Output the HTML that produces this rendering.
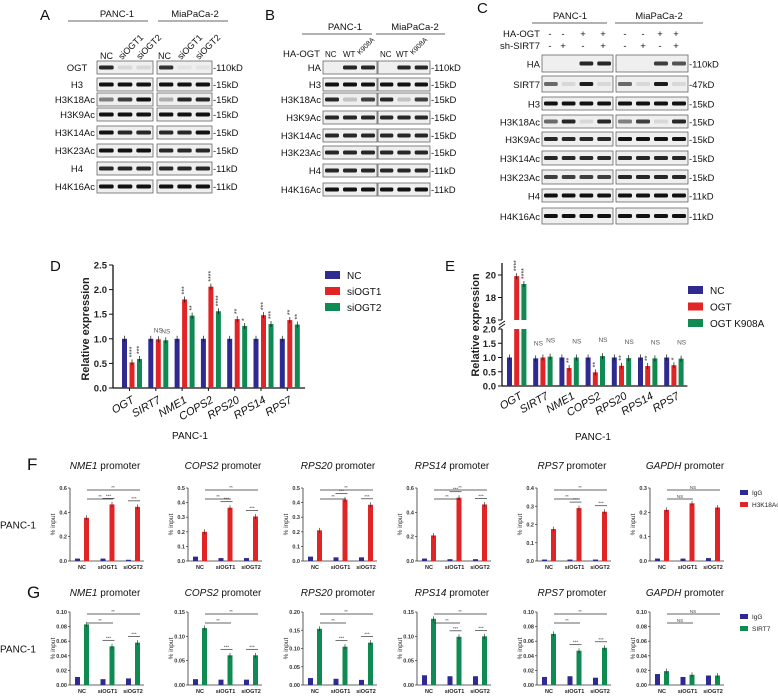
<!DOCTYPE html>
<html><head><meta charset="utf-8">
<style>
html,body{margin:0;padding:0;background:#fff;}
svg{display:block;font-family:"Liberation Sans",Arial,sans-serif;}
</style></head>
<body>
<svg id="fig" width="778" height="696" viewBox="0 0 778 696" xmlns="http://www.w3.org/2000/svg">
<rect x="0" y="0" width="778" height="696" fill="#fff"/>
<g id="blots"></g>
<g id="chartD"></g>
<g id="chartE"></g>
<g id="chartF"></g>
<g id="chartG"></g>
</svg>
<script>
// ---------- Panel D data ----------
const dGenes = ["OGT","SIRT7","NME1","COPS2","RPS20","RPS14","RPS7"];
const dNC = [1,1,1,1,1,1,1];
const dSi1 = [0.52,0.99,1.8,2.06,1.4,1.48,1.38];
const dSi2 = [0.59,0.97,1.47,1.56,1.26,1.3,1.29];
const dSig1 = ["****","NS","***","****","**","***","**"];
const dSig2 = ["***","NS","**","****","*","***","**"];
const dTicks = ["0.0","0.5","1.0","1.5","2.0","2.5"];
const dSeries = ["NC","siOGT1","siOGT2"];
// ---------- Panel E data ----------
const eGenes = ["OGT","SIRT7","NME1","COPS2","RPS20","RPS14","RPS7"];
const eNC = [1,0.97,1,1,1,1,1];
const eOGT = [19.9,1,0.63,0.48,0.71,0.7,0.73];
const eK908A = [19.2,1.03,1,1.05,0.98,0.97,0.96];
const eSig1 = ["****","NS","**","**","**","**","*"];
const eSig2 = ["****","NS","NS","NS","NS","NS","NS"];
const eTicksLow = ["0.0","0.5","1.0","1.5","2.0"];
const eTicksHigh = ["16","18","20"];
const eSeries = ["NC","OGT","OGT K908A"];
// ---------- Panel F/G data ----------
const chipGroups = ["NC","siOGT1","siOGT2"];
const chipPromoters = ["NME1","COPS2","RPS20","RPS14","RPS7","GAPDH"];
const fMax = [0.6,0.5,0.5,0.6,0.4,0.3];
const fStep = [0.2,0.1,0.1,0.2,0.1,0.1];
const fIgG = [[0.02,0.02,0.01],[0.03,0.02,0.02],[0.03,0.025,0.025],[0.02,0.015,0.015],[0.008,0.008,0.008],[0.01,0.01,0.012]];
const fH3K18 = [[0.355,0.465,0.445],[0.2,0.365,0.305],[0.21,0.42,0.385],[0.21,0.52,0.465],[0.175,0.29,0.27],[0.21,0.237,0.22]];
const gMax = [0.10,0.15,0.20,0.15,0.10,0.10];
const gStep = [0.02,0.05,0.05,0.05,0.02,0.02];
const gIgG = [[0.011,0.008,0.009],[0.012,0.011,0.011],[0.019,0.017,0.014],[0.02,0.018,0.018],[0.011,0.012,0.01],[0.015,0.011,0.013]];
const gSIRT7 = [[0.083,0.053,0.058],[0.117,0.061,0.061],[0.154,0.105,0.116],[0.136,0.099,0.1],[0.07,0.047,0.051],[0.019,0.014,0.013]];

const NS="http://www.w3.org/2000/svg";
const BLUE="#2e2a90",RED="#e12526",GREEN="#0f8a52";
function el(parent,tag,attrs,text){const e=document.createElementNS(NS,tag);for(const k in attrs)e.setAttribute(k,attrs[k]);if(text!==undefined)e.textContent=text;parent.appendChild(e);return e;}

// ================= Blots =================
const B=document.getElementById('blots');
function txt(x,y,s,size,anchor,extra){const t=el(B,'text',Object.assign({x:x,y:y,'font-size':size||10,'text-anchor':anchor||'start',fill:'#111'},extra||{}),s);return t;}
function box(x,y,w,h,ints){
  const g=el(B,'g',{});
  
  
  el(g,'rect',{x:x,y:y,width:w,height:h,fill:'#efefef',stroke:'#666','stroke-width':0.8});
  const n=ints.length,lw=w/n;
  ints.forEach((v,i)=>{if(v<=0)return;el(g,'rect',{x:x+lw*i+2,y:y+h/2-2,width:lw-4,height:4,rx:1.5,fill:'#111',opacity:v});});
}
// Panel A
txt(40,20,"A",15);
txt(117,17,"PANC-1",9.5,'middle');txt(195,17,"MiaPaCa-2",9.5,'middle');
el(B,'line',{x1:68,y1:21,x2:148,y2:21,stroke:'#666'});el(B,'line',{x1:158,y1:21,x2:228,y2:21,stroke:'#666'});
txt(100,59,"NC",9);txt(158,59,"NC",9);
[["siOGT1",122],["siOGT2",140],["siOGT1",181],["siOGT2",199]].forEach(a=>txt(a[1],60,a[0],9,'start',{transform:`rotate(-45 ${a[1]} 60)`}));
const aRows=[["OGT",61,[0.9,0.1,0.1],[0.85,0.05,0.05],"-110kD"],["H3",78,[1,1,1],[1,1,1],"-15kD"],["H3K18Ac",93,[0.5,0.8,1],[0.3,0.9,0.9],"-15kD"],["H3K9Ac",108,[1,1,1],[1,1,1],"-15kD"],["H3K14Ac",126,[1,0.9,0.9],[0.9,0.9,1],"-15kD"],["H3K23Ac",144,[1,1,1],[0.9,0.9,0.9],"-15kD"],["H4",162,[0.9,0.9,0.9],[0.9,0.9,0.9],"-11kD"],["H4K16Ac",180,[1,1,1],[1,1,1],"-11kD"]];
aRows.forEach(r=>{const c=(r[0]==="OGT"||r[0]==="H3"||r[0]==="H4");txt(c?77:95,r[1]+10,r[0],9.5,c?'middle':'end');box(97,r[1],56,13,r[2]);box(157,r[1],55,13,r[3]);txt(213,r[1]+10,r[4],9.5);});
// Panel B
txt(265,20,"B",15);
txt(345,30,"PANC-1",9.5,'middle');txt(415,30,"MiaPaCa-2",9.5,'middle');
el(B,'line',{x1:302,y1:34,x2:372,y2:34,stroke:'#666'});el(B,'line',{x1:376,y1:34,x2:445,y2:34,stroke:'#666'});
txt(320,57,"HA-OGT",9.5,'end');txt(325,57,"NC",8);txt(343,57,"WT",8);txt(360,55,"K908A",7,'start',{transform:'rotate(-45 360 55)'});
txt(380,57,"NC",8);txt(396,57,"WT",8);txt(413,55,"K908A",7,'start',{transform:'rotate(-45 413 55)'});
const bRows=[["HA",61,[0,0.9,0.9],[0,0.9,0.9],"-110kD"],["H3",78,[1,1,1],[1,1,1],"-15kD"],["H3K18Ac",93,[0.9,0.2,0.8],[0.9,0.2,0.8],"-15kD"],["H3K9Ac",111,[0.9,0.9,0.9],[0.9,0.9,0.9],"-15kD"],["H3K14Ac",129,[0.9,0.9,0.9],[0.9,0.9,0.9],"-15kD"],["H3K23Ac",146,[0.9,0.9,0.9],[0.9,0.9,0.9],"-15kD"],["H4",164,[0.9,0.9,0.9],[0.9,0.9,0.9],"-11kD"],["H4K16Ac",183,[1,1,1],[1,1,1],"-11kD"]];
bRows.forEach(r=>{txt(321,r[1]+10,r[0],9.5,'end');box(323,r[1],54,13,r[2]);box(378,r[1],52,13,r[3]);txt(431,r[1]+10,r[4],9.5);});
// Panel C
txt(477,13,"C",15);
txt(570,19,"PANC-1",9.5,'middle');txt(659,19,"MiaPaCa-2",9.5,'middle');
el(B,'line',{x1:532,y1:23,x2:607,y2:23,stroke:'#666'});el(B,'line',{x1:615,y1:23,x2:703,y2:23,stroke:'#666'});
txt(540,37,"HA-OGT",9.5,'end');txt(540,49,"sh-SIRT7",9.5,'end');
const cx=[550,563,583,603,625,643,660,676];const ha=["-","-","+","+","-","-","+","+"];const sh=["-","+","-","+","-","+","-","+"];
cx.forEach((x,i)=>{txt(x,37,ha[i],9.5,'middle');txt(x,49,sh[i],9.5,'middle');});
const cRows=[["HA",55,17,[0,0,0.9,0.9],[0,0,0.8,0.7],"-110kD"],["SIRT7",76,16,[0.6,0.1,0.95,0.1],[0.6,0.1,0.95,0.1],"-47kD"],["H3",97,13,[1,1,1,1],[1,1,1,1],"-15kD"],["H3K18Ac",115,13,[0.6,0.9,0.1,0.9],[0.5,0.8,0.1,0.9],"-15kD"],["H3K9Ac",132,14,[0.9,0.9,0.9,0.9],[1,1,1,1],"-15kD"],["H3K14Ac",151,14,[0.9,0.9,0.9,0.9],[0.9,0.9,0.9,0.9],"-15kD"],["H3K23Ac",170,14,[0.8,0.8,0.8,0.8],[0.9,0.9,0.9,0.9],"-15kD"],["H4",189,13,[1,1,1,1],[1,1,1,1],"-11kD"],["H4K16Ac",208,16,[1,1,1,1],[1,1,1,1],"-11kD"]];
cRows.forEach(r=>{txt(540,r[1]+r[2]/2+4,r[0],9.5,'end');box(542,r[1],71,r[2],r[3]);box(616,r[1],72,r[2],r[4]);txt(689,r[1]+r[2]/2+4,r[5],9.5);});

// ================= Panel D =================
(function(){
const G=document.getElementById('chartD');
const X0=113,Y0=388,pxu=(388-265)/2.5,gs=26.3;
const y=v=>Y0-v*pxu;
const lbl=el(G,'text',{x:50,y:271,'font-size':15,fill:'#111'},"D");
el(G,'line',{x1:X0,y1:Y0,x2:X0,y2:y(2.5),stroke:'#111','stroke-width':1.3});
el(G,'line',{x1:X0,y1:Y0,x2:X0+dGenes.length*gs+8,y2:Y0,stroke:'#111','stroke-width':1.3});
dTicks.forEach(t=>{const v=parseFloat(t);el(G,'line',{x1:X0-4,y1:y(v),x2:X0,y2:y(v),stroke:'#111'});const e=el(G,'text',{x:X0-6,y:y(v)+3.5,'font-size':9.5,'font-weight':'bold','text-anchor':'end',fill:'#222'},t);});
const yt=el(G,'text',{x:0,y:0,'font-size':11,'font-weight':'bold','text-anchor':'middle',fill:'#222',transform:`translate(89 ${y(1.2)}) rotate(-90)`},"Relative expression");
const series=[dNC,dSi1,dSi2],cols=[BLUE,RED,GREEN],sigs=[null,dSig1,dSig2];
dGenes.forEach((g,i)=>{const c=X0+10+i*gs;
 series.forEach((s,j)=>{const bx=c+j*7.5-1;const b=el(G,'rect',{x:bx,y:y(s[i]),width:5,height:Y0-y(s[i]),fill:cols[j]});
  el(G,'line',{x1:bx+2.5,y1:y(s[i])-3,x2:bx+2.5,y2:y(s[i])+3,stroke:'#111','stroke-width':0.7});
  if(sigs[j]){const sg=sigs[j][i];const st=sg==="NS"?el(G,'text',{x:bx+2.5,y:y(s[i])-7,'font-size':6.5,'text-anchor':'middle',fill:'#555'},sg):el(G,'text',{x:0,y:0,'font-size':7,'text-anchor':'start',fill:'#333',transform:`translate(${bx+4.5} ${y(s[i])-5}) rotate(-90)`},sg);}
 });
 el(G,'line',{x1:c+6.5,y1:Y0,x2:c+6.5,y2:Y0+3,stroke:'#111'});
 const t=el(G,'text',{x:0,y:0,'font-size':11,'font-style':'italic','text-anchor':'end',fill:'#111',transform:`translate(${c+12} ${Y0+14}) rotate(-30)`},g);
});
const pc=el(G,'text',{x:190,y:439,'font-size':10,'text-anchor':'middle',fill:'#111'},"PANC-1");
dSeries.forEach((s,j)=>{const r=el(G,'rect',{x:325,y:271+j*16,width:15,height:8,fill:cols[j]});const t=el(G,'text',{x:347,y:279+j*16,'font-size':10,fill:'#111'},s);});
})();

// ================= Panel E =================
(function(){
const G=document.getElementById('chartE');
const X0=502,Y0=386,pl=(386-329)/2,ph=(320-275)/4,gs=26.2;
const y=v=>v<=2?Y0-v*pl:320-(v-16)*ph;
const lbl=el(G,'text',{x:445,y:271,'font-size':15,fill:'#111'},"E");
el(G,'line',{x1:X0,y1:Y0,x2:X0,y2:y(2),stroke:'#111','stroke-width':1.3});
el(G,'line',{x1:X0,y1:y(16),x2:X0,y2:263,stroke:'#111','stroke-width':1.3});
el(G,'line',{x1:X0-3,y1:y(2)-1,x2:X0+3,y2:y(2)-5,stroke:'#111'});el(G,'line',{x1:X0-3,y1:y(16)+5,x2:X0+3,y2:y(16)+1,stroke:'#111'});
el(G,'line',{x1:X0,y1:Y0,x2:X0+eGenes.length*gs+2,y2:Y0,stroke:'#111','stroke-width':1.3});
eTicksLow.concat(eTicksHigh).forEach(t=>{const v=parseFloat(t);el(G,'line',{x1:X0-4,y1:y(v),x2:X0,y2:y(v),stroke:'#111'});const e=el(G,'text',{x:X0-6,y:y(v)+3.5,'font-size':9.5,'font-weight':'bold','text-anchor':'end',fill:'#222'},t);});
const yt=el(G,'text',{x:0,y:0,'font-size':11,'font-weight':'bold','text-anchor':'middle',fill:'#222',transform:`translate(479 325) rotate(-90)`},"Relative expression");
const series=[eNC,eOGT,eK908A],cols=[BLUE,RED,GREEN],sigs=[null,eSig1,eSig2];
eGenes.forEach((g,i)=>{const c=X0+5+i*gs;
 series.forEach((s,j)=>{const bx=c+j*7.2;const v=s[i];
  if(v>2){const b1=el(G,'rect',{x:bx,y:y(2),width:5,height:Y0-y(2),fill:cols[j]});
   const b=el(G,'rect',{x:bx,y:y(v),width:5,height:y(16)-y(v),fill:cols[j]});}
  else{const b=el(G,'rect',{x:bx,y:y(v),width:5,height:Y0-y(v),fill:cols[j]});}
  el(G,'line',{x1:bx+2.5,y1:y(v)-3,x2:bx+2.5,y2:y(v)+3,stroke:'#111','stroke-width':0.7});
  if(sigs[j]){const sg=sigs[j][i];let n;
   if(sg==="NS"){n=el(G,'text',{x:bx+(j===1?-2:3),y:y(v)-(j===1?8:14)+(j===1?-4:0),'font-size':6.5,'text-anchor':'middle',fill:'#555'},sg);}
   else{n=el(G,'text',{x:0,y:0,'font-size':7,'text-anchor':'start',fill:'#333',transform:`translate(${bx+4.5} ${y(v)-5}) rotate(-90)`},sg);}
   }
 });
 const t=el(G,'text',{x:0,y:0,'font-size':11,'font-style':'italic','text-anchor':'end',fill:'#111',transform:`translate(${c+16} ${Y0+12}) rotate(-30)`},g);
});
const pc=el(G,'text',{x:593,y:440,'font-size':10,'text-anchor':'middle',fill:'#111'},"PANC-1");
eSeries.forEach((s,j)=>{const r=el(G,'rect',{x:688,y:286+j*16.5,width:15,height:8,fill:cols[j]});const t=el(G,'text',{x:710,y:294+j*16.5,'font-size':10,fill:'#111'},s);});
})();

// ================= Panels F & G =================
const axesX=[70,188,303,417,537,650];
function chipRow(gid,letter,letterY,titleY,y0,ytop,maxs,steps,ig,tg,tgColor,tgName){
 const G=document.getElementById(gid);
 const L=el(G,'text',{x:27,y:letterY,'font-size':17,fill:'#111'},letter);
 const P=el(G,'text',{x:0,y:(y0+ytop)/2+4,'font-size':10,fill:'#111'},"PANC-1");
 chipPromoters.forEach((p,k)=>{
  const X0=axesX[k],mx=maxs[k],st=steps[k];const y=v=>y0-(v/mx)*(y0-ytop);
  const tt=el(G,'text',{x:X0+35,y:titleY,'font-size':10,'text-anchor':'middle',fill:'#111'});
  el(tt,'tspan',{'font-style':'italic'},p);el(tt,'tspan',{},' promoter');
  el(G,'line',{x1:X0,y1:y0,x2:X0,y2:ytop,stroke:'#333','stroke-width':0.8});
  el(G,'line',{x1:X0,y1:y0,x2:X0+74,y2:y0,stroke:'#333','stroke-width':0.8});
  const nt=Math.round(mx/st);
  for(let i=0;i<=nt;i++){const v=i*st;el(G,'line',{x1:X0-2,y1:y(v),x2:X0,y2:y(v),stroke:'#333','stroke-width':0.7});
   const e=el(G,'text',{x:X0-3,y:y(v)+2,'font-size':5.5,'font-weight':'bold','text-anchor':'end',fill:'#333'},v.toFixed(st<0.1?2:1));}
  const yt=el(G,'text',{x:0,y:0,'font-size':6.5,'text-anchor':'middle',fill:'#333',transform:`translate(${X0-15} ${(y0+ytop)/2}) rotate(-90)`},"% input");
  chipGroups.forEach((g,i)=>{const c=X0+12+i*25.5;
   const b1=el(G,'rect',{x:c-7,y:y(ig[k][i]),width:5,height:y0-y(ig[k][i]),fill:BLUE});
   const b2=el(G,'rect',{x:c+2,y:y(tg[k][i]),width:5,height:y0-y(tg[k][i]),fill:tgColor});
   el(G,'line',{x1:c+4.5,y1:y(tg[k][i])-2.5,x2:c+4.5,y2:y(tg[k][i])+2.5,stroke:'#222','stroke-width':0.6});
   const xl=el(G,'text',{x:c,y:y0+8,'font-size':5.5,'font-weight':'bold','text-anchor':'middle',fill:'#222'},g);
   if(i>0&&p!=="GAPDH"){el(G,'line',{x1:c-5,y1:y(tg[k][i])-6,x2:c+7,y2:y(tg[k][i])-6,stroke:'#333','stroke-width':0.7});
    const s=el(G,'text',{x:c+1,y:y(tg[k][i])-7,'font-size':4.5,'text-anchor':'middle',fill:'#444'},"***");}
  });
  el(G,'line',{x1:X0+17,y1:ytop+2,x2:X0+70,y2:ytop+2,stroke:'#333','stroke-width':0.8});
  el(G,'line',{x1:X0+17,y1:ytop+11,x2:X0+43,y2:ytop+11,stroke:'#333','stroke-width':0.8});
  const s1=el(G,'text',{x:X0+43,y:ytop+1,'font-size':4.5,'text-anchor':'middle',fill:'#444'},p==="GAPDH"?"NS":"**");
  const s2=el(G,'text',{x:X0+30,y:ytop+10,'font-size':4.5,'text-anchor':'middle',fill:'#444'},p==="GAPDH"?"NS":"**");
 });
 [["IgG",BLUE],[tgName,tgColor]].forEach((s,j)=>{const r=el(G,'rect',{x:740,y:ytop+2+j*12,width:8,height:5,fill:s[1]});const t=el(G,'text',{x:752,y:ytop+7+j*12,'font-size':6.5,fill:'#222'},s[0]);});
}
chipRow('chartF','F',470,469,561,488,fMax,fStep,fIgG,fH3K18,RED,'H3K18Ac');
chipRow('chartG','G',598,596,685,612,gMax,gStep,gIgG,gSIRT7,GREEN,'SIRT7');
</script>
</body></html>
